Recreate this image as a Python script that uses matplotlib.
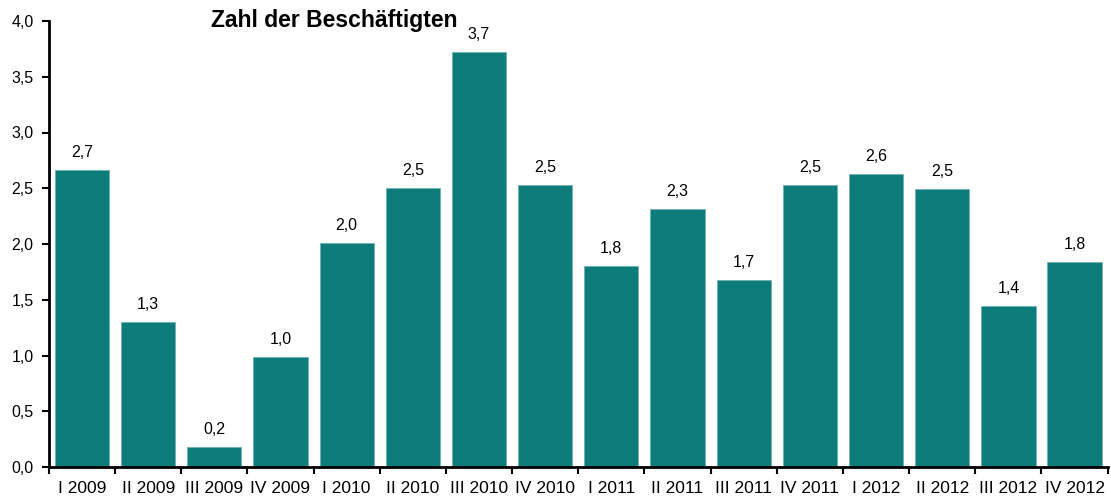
import matplotlib
matplotlib.use("Agg")
import matplotlib.pyplot as plt
import numpy as np

categories = ["I 2009", "II 2009", "III 2009", "IV 2009", "I 2010", "II 2010", "III 2010", "IV 2010",
              "I 2011", "II 2011", "III 2011", "IV 2011", "I 2012", "II 2012", "III 2012", "IV 2012"]
values = [2.66, 1.30, 0.18, 0.99, 2.01, 2.50, 3.72, 2.53, 1.80, 2.31, 1.68, 2.53, 2.63, 2.49, 1.44, 1.84]
yticks = [0.0, 0.5, 1.0, 1.5, 2.0, 2.5, 3.0, 3.5, 4.0]

plt.rcParams['font.family'] = ['Liberation Sans', 'DejaVu Sans']

fig = plt.figure(figsize=(11.11, 5.0), dpi=100)
ax = fig.add_axes([0.044, 0.066, 0.953, 0.892])

x = np.arange(len(categories))
bars = ax.bar(x, values, width=0.82, color="#0E7C7B", edgecolor="#6FB3B0", linewidth=0.6)

for xi, v in zip(x, values):
    ax.text(xi, v + 0.09, f"{v:.1f}".replace(".", ","), ha="center", va="bottom", fontsize=11.5)

ax.set_xlim(-0.5, len(categories) - 0.5)
ax.set_ylim(0, 4.0)
ax.set_yticks(yticks)
ax.set_yticklabels([f"{t:.1f}".replace(".", ",") for t in yticks], fontsize=11.5)
ax.set_xticks(x)
ax.set_xticklabels(categories, fontsize=12.5)
ax.set_xticks(np.arange(-0.5, len(categories) + 0.5, 1.0), minor=True)
ax.tick_params(axis="x", which="major", length=0, pad=10)
ax.tick_params(axis="x", which="minor", length=5, width=1.5, direction="out")
ax.tick_params(axis="y", length=5, width=1.5, direction="out", pad=6)

for s in ["top", "right"]:
    ax.spines[s].set_visible(False)
for s in ["left", "bottom"]:
    ax.spines[s].set_linewidth(2)
    ax.spines[s].set_color("black")

fig.text(0.19, 0.96, "Zahl der Beschäftigten", fontsize=16.5, fontweight="bold", ha="left", va="center")

fig.savefig("out.png", dpi=100)
